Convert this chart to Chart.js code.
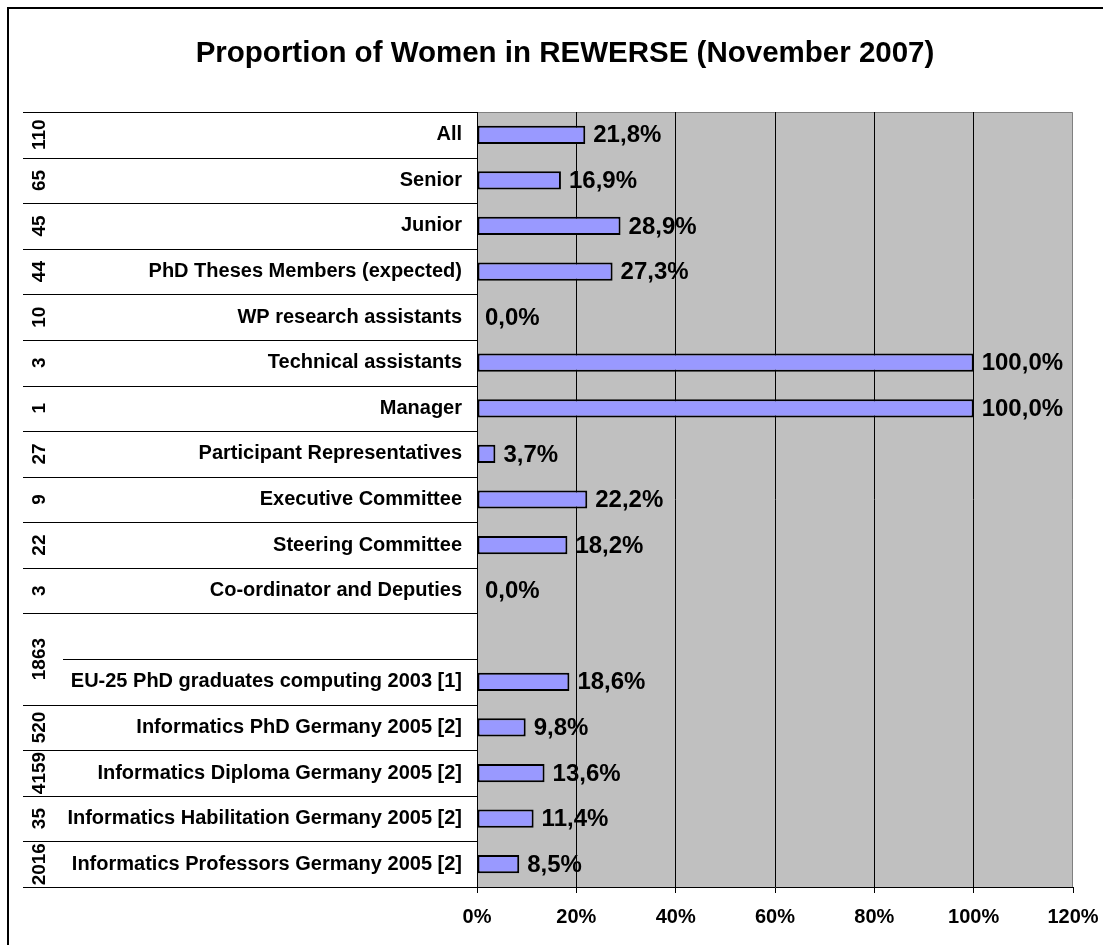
<!DOCTYPE html>
<html>
<head>
<meta charset="utf-8">
<title>Proportion of Women in REWERSE (November 2007)</title>
<script src="https://cdn.jsdelivr.net/npm/chart.js@4.4.0/dist/chart.umd.min.js"></script>
<style>
  body { margin: 0; background: #fff; }
  #container { width: 1103px; height: 945px; }
</style>
</head>
<body>
<div id="container"><canvas id="myChart" width="1103" height="945"></canvas></div>
<script>
// rows of the table, top to bottom ('' is the empty spacer row)
const categories = [
  'All',
  'Senior',
  'Junior',
  'PhD Theses Members (expected)',
  'WP research assistants',
  'Technical assistants',
  'Manager',
  'Participant Representatives',
  'Executive Committee',
  'Steering Committee',
  'Co-ordinator and Deputies',
  '',
  'EU-25 PhD graduates computing 2003 [1]',
  'Informatics PhD Germany 2005 [2]',
  'Informatics Diploma Germany 2005 [2]',
  'Informatics Habilitation Germany 2005 [2]',
  'Informatics Professors Germany 2005 [2]'
]
const womenPercent = [21.8, 16.9, 28.9, 27.3, 0, 100, 100, 3.7, 22.2, 18.2, 0, null, 18.6, 9.8, 13.6, 11.4, 8.5]
const headcount = [110, 65, 45, 44, 10, 3, 1, 27, 9, 22, 3, null, 1863, 520, 4159, 35, 2016]
const xTicks = [0, 20, 40, 60, 80, 100, 120]

const fontFamily = '"Liberation Sans", Arial, Helvetica, sans-serif'
Chart.defaults.font.family = fontFamily
Chart.defaults.color = '#000'

function formatPercent(v) {
  return v.toFixed(1).replace('.', ',') + '%'
}

const tablePlugin = {
  id: 'tablePlugin',
  beforeDraw(chart) {
    const ctx = chart.ctx
    const area = chart.chartArea
    ctx.save()
    ctx.fillStyle = '#fff'
    ctx.fillRect(0, 0, chart.width, chart.height)
    // outer frame (runs off the right and bottom edge)
    ctx.strokeStyle = '#000'
    ctx.lineWidth = 2
    ctx.strokeRect(8, 8, chart.width + 20, chart.height + 20)
    // plot area
    ctx.fillStyle = '#c0c0c0'
    ctx.fillRect(area.left, area.top, area.right - area.left, area.bottom - area.top)
    ctx.strokeStyle = '#808080'
    ctx.lineWidth = 1
    ctx.beginPath()
    ctx.moveTo(area.left, area.top + 0.5)
    ctx.lineTo(area.right - 0.5, area.top + 0.5)
    ctx.lineTo(area.right - 0.5, area.bottom)
    ctx.stroke()
    ctx.restore()
  },
  afterDraw(chart) {
    const ctx = chart.ctx
    const yScale = chart.scales.y
    const area = chart.chartArea
    const rowH = yScale.getPixelForValue(1) - yScale.getPixelForValue(0)
    const firstEdge = yScale.getPixelForValue(0) - rowH / 2

    ctx.save()
    // row separators of the table on the left
    ctx.strokeStyle = '#000'
    ctx.lineWidth = 1
    for (let k = 0; k <= categories.length; k++) {
      const yy = Math.round(firstEdge + k * rowH) + 0.5
      const startX = categories[k - 1] === '' ? 63 : 23
      ctx.beginPath()
      ctx.moveTo(startX, yy)
      ctx.lineTo(area.left, yy)
      ctx.stroke()
    }

    // rotated head counts
    ctx.font = 'bold 19px ' + fontFamily
    ctx.fillStyle = '#000'
    ctx.textAlign = 'center'
    ctx.textBaseline = 'middle'
    for (let i = 0; i < headcount.length; i++) {
      if (headcount[i] == null) continue
      let cy = yScale.getPixelForValue(i)
      if (categories[i - 1] === '') cy -= rowH / 2
      ctx.save()
      ctx.translate(39, cy)
      ctx.rotate(-Math.PI / 2)
      ctx.fillText(String(headcount[i]), 0, 1)
      ctx.restore()
    }

    // value labels next to the bars
    const meta = chart.getDatasetMeta(0)
    ctx.font = 'bold 24px ' + fontFamily
    ctx.textAlign = 'left'
    meta.data.forEach((bar, i) => {
      const v = womenPercent[i]
      if (v == null) return
      ctx.fillText(formatPercent(v), bar.x + 8, bar.y + 1)
    })
    ctx.restore()
  }
}

const ctx = document.getElementById('myChart')
const myChart = new Chart(ctx, {
  type: 'bar',
  data: {
    labels: categories,
    datasets: [{
      data: womenPercent,
      backgroundColor: '#9999ff',
      borderColor: '#000',
      borderWidth: (c) => (c.raw ? 2 : 0),
      borderSkipped: false,
      barPercentage: 0.4,
      categoryPercentage: 1
    }]
  },
  options: {
    indexAxis: 'y',
    responsive: false,
    animation: false,
    layout: { padding: { left: 57, right: 30, top: 0, bottom: 0 } },
    plugins: {
      legend: { display: false },
      tooltip: { enabled: false },
      title: {
        display: true,
        text: 'Proportion of Women in REWERSE (November 2007)',
        color: '#000',
        font: { size: 29.5, weight: 'bold' },
        padding: { top: 36, bottom: 40.6 }
      }
    },
    scales: {
      x: {
        type: 'linear',
        min: xTicks[0],
        max: xTicks[xTicks.length - 1],
        afterFit: (s) => {
          s.height = 58
          s.paddingLeft = 0
          s.paddingRight = 0
        },
        ticks: {
          stepSize: xTicks[1] - xTicks[0],
          callback: (v) => v + '%',
          color: '#000',
          padding: 12,
          font: { size: 20, weight: 'bold' }
        },
        grid: {
          color: (c) => (c.tick && c.tick.value === xTicks[xTicks.length - 1] ? 'rgba(0,0,0,0)' : '#000'),
          tickColor: '#000',
          tickLength: 6,
          lineWidth: 1
        },
        border: { color: '#000', width: 1 }
      },
      y: {
        afterFit: (s) => { s.width = 420 },
        ticks: {
          autoSkip: false,
          color: '#000',
          padding: 15,
          font: { size: 20, weight: 'bold' }
        },
        grid: { display: false, drawTicks: false },
        border: { display: true, color: '#000', width: 1 }
      }
    }
  },
  plugins: [tablePlugin]
})
</script>
</body>
</html>
